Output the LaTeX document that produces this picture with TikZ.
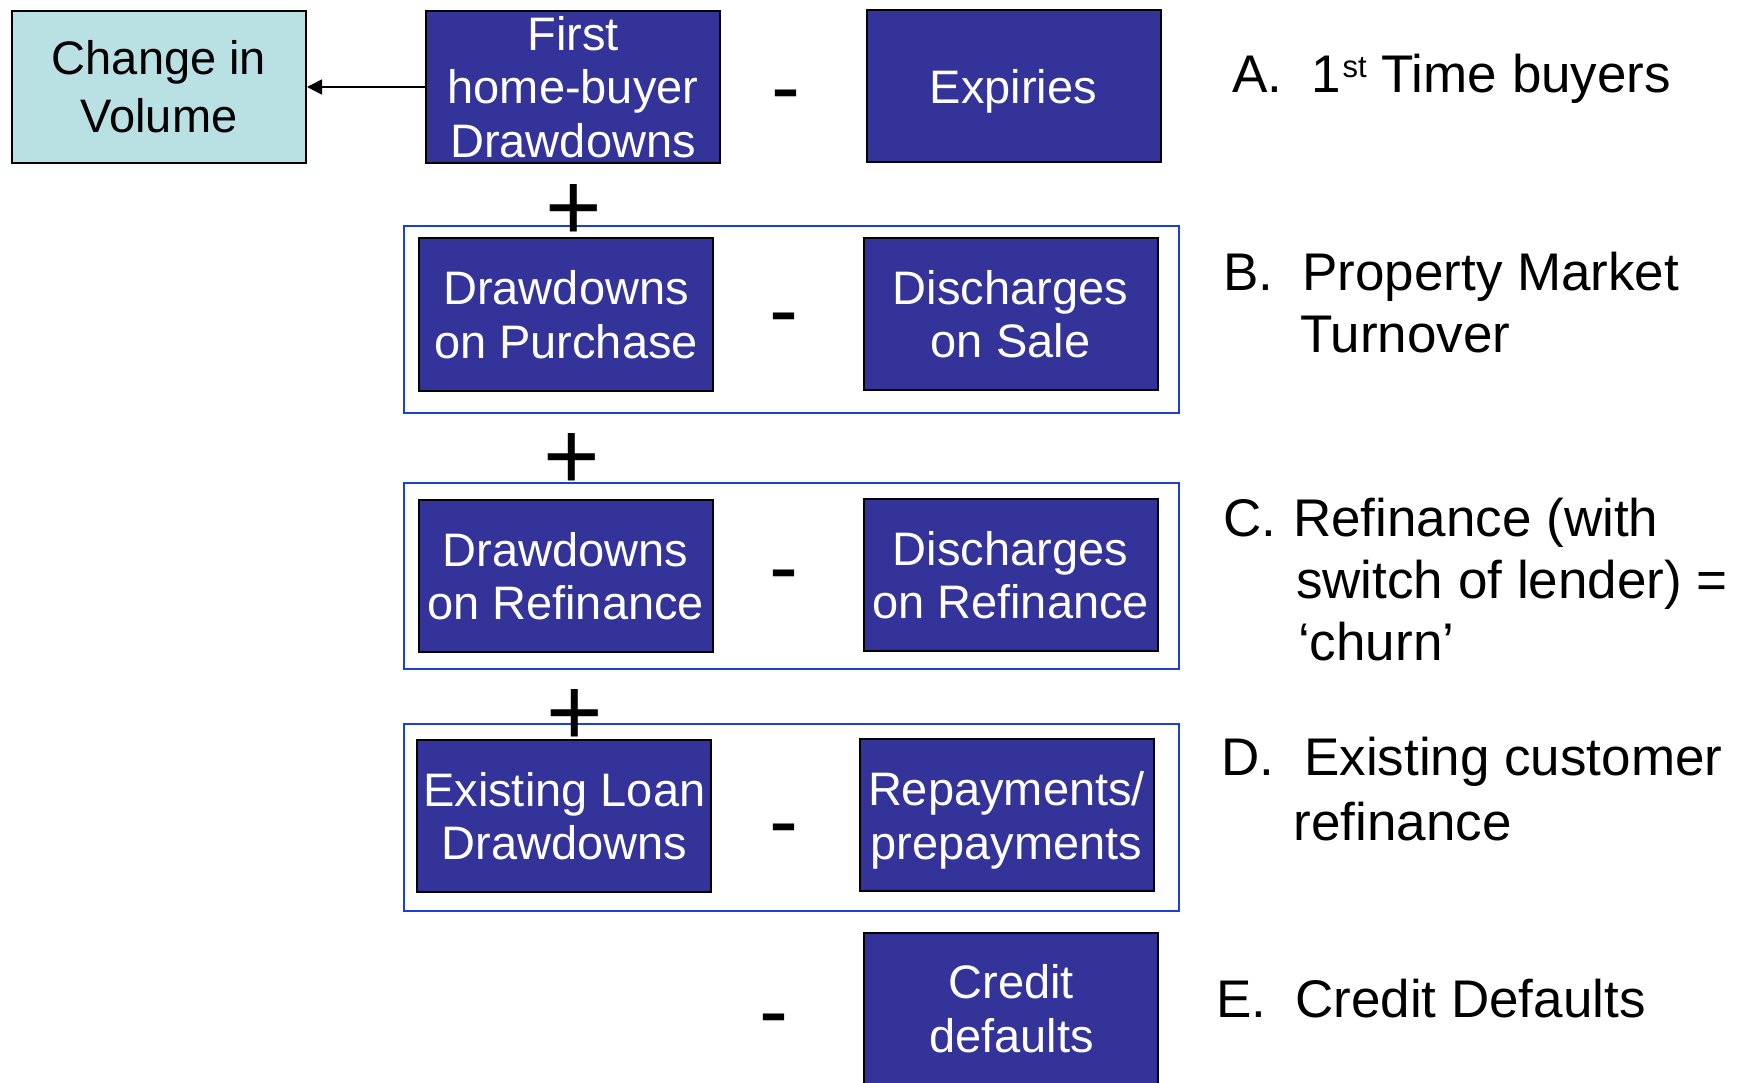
\documentclass[tikz,border=0pt]{standalone}
\usepackage{fontspec}
\setmainfont{Liberation Sans}
\usetikzlibrary{arrows.meta}
\definecolor{boxblue}{RGB}{51,51,153}
\definecolor{volcyan}{RGB}{185,224,227}
\definecolor{grpblue}{RGB}{25,65,215}
\begin{document}
\begin{tikzpicture}[x=1pt,y=-1pt,
  flowbox/.style={draw=black, line width=2pt, fill=boxblue, text=white,
    align=center, inner sep=0pt, minimum width=294pt, minimum height=152pt,
    font=\fontsize{47}{53.5}\selectfont},
  volbox/.style={flowbox, fill=volcyan, text=black,
    font=\fontsize{47}{58}\selectfont},
  groupframe/.style={draw=grpblue, line width=2pt, inner sep=0pt,
    minimum width=775pt},
  plussign/.style={inner sep=0pt, anchor=base, font=\fontsize{97}{97}\selectfont},
  minussign/.style={inner sep=0pt, anchor=base, font=\fontsize{87}{87}\selectfont},
  notetext/.style={inner sep=0pt, anchor=base west, font=\fontsize{53}{63}\selectfont},
  flowarrow/.style={line width=1.5pt, -{Triangle[length=15pt,width=15pt]}}
]
\useasboundingbox (0,0) rectangle (1744,1083);

% group frames
\node[groupframe, minimum height=187pt] (grpB) at (791,319.5) {};
\node[groupframe, minimum height=186pt] (grpC) at (791,576) {};
\node[groupframe, minimum height=187pt] (grpD) at (791,817.2) {};

% boxes
\node[volbox] (civ) at (159,87) {Change in\\Volume};
\node[flowbox] (fhb) at (573,87) {First\\home-buyer\\Drawdowns};
\node[flowbox, text depth=0pt] (exp) at (1013.5,86) {Expiries};
\node[flowbox] (dop) at (566,314.5) {Drawdowns\\on Purchase};
\node[flowbox] (dos) at (1010.5,314) {Discharges\\on Sale};
\node[flowbox] (dor) at (565.5,576) {Drawdowns\\on Refinance};
\node[flowbox] (disr) at (1010.5,575) {Discharges\\on Refinance};
\node[flowbox] (eld) at (564.3,816.3) {Existing Loan\\Drawdowns};
\node[flowbox] (rep) at (1006.5,815.3) {Repayments/\\\raisebox{0pt}[\height][0pt]{prepayments}};
\node[flowbox] (cd) at (1011.3,1008.8) {Credit\\defaults};

% connector
\draw[flowarrow] (fhb) -- (civ);

% operators
\node[plussign] (p1) at (574,240.6) {+};
\node[plussign] (p2) at (571.6,489.1) {+};
\node[plussign] (p3) at (575,745.8) {+};
\node[minussign] (mA) at (785.5,116.7) {-};
\node[minussign] (mB) at (784,339.2) {-};
\node[minussign] (mC) at (784,596.2) {-};
\node[minussign] (mD) at (784,850.2) {-};
\node[minussign] (mE) at (773.5,1040.7) {-};

% notes on the right
\node[notetext] (la) at (1232,92.5) {A.};
\node[notetext] (ta) at (1311,92.5) {1\kern2pt\raisebox{15pt}{\fontsize{31}{31}\selectfont st} Time buyers};
\node[notetext] (lb) at (1223,290) {B.};
\node[notetext] (tb1) at (1302,290) {Property Market};
\node[notetext] (tb2) at (1300,352) {Turnover};
\node[notetext] (lc) at (1223.5,536) {C.};
\node[notetext] (tc1) at (1293,536) {Refinance (with};
\node[notetext] (tc2) at (1296,598) {switch of lender) =};
\node[notetext] (tc3) at (1298,660) {`churn'};
\node[notetext] (ld) at (1221,775) {D.};
\node[notetext] (td1) at (1304,775) {Existing customer};
\node[notetext] (td2) at (1293.5,840) {refinance};
\node[notetext] (le) at (1216,1017) {E.};
\node[notetext] (te) at (1295,1017) {Credit Defaults};
\end{tikzpicture}
\end{document}
